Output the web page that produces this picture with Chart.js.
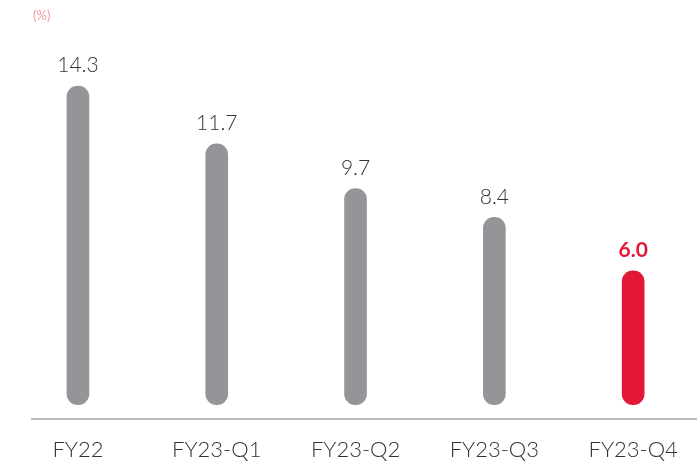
<!DOCTYPE html>
<html>
<head>
<meta charset="utf-8">
<script src="https://cdn.jsdelivr.net/npm/chart.js@4/dist/chart.umd.min.js"></script>
<style>
    html, body { margin: 0; padding: 0; background: #fff; overflow: hidden; }
    #wrap { position: relative; width: 697px; height: 463px; }
    #unit { position: absolute; left: 33px; top: 7px; font: 13px Lato, sans-serif; color: #f29a9a; }
</style>
</head>
<body>
<div id="wrap">
    <div id="unit">(%)</div>
    <canvas id="chart"></canvas>
</div>
<script>
const categories = ['FY22', 'FY23-Q1', 'FY23-Q2', 'FY23-Q3', 'FY23-Q4'];
const values = [14.3, 11.7, 9.7, 8.4, 6.0];
const valueLabels = ['14.3', '11.7', '9.7', '8.4', '6.0'];

const GREY = '#939598';
const RED = '#e31837';

// labels above each pill, last one bold red
const valueLabelPlugin = {
    id: 'valueLabels',
    afterDatasetsDraw(chart) {
        const ctx = chart.ctx;
        const meta = chart.getDatasetMeta(0);
        ctx.save();
        ctx.textAlign = 'center';
        ctx.textBaseline = 'bottom';
        meta.data.forEach((bar, i) => {
            const last = i === values.length - 1;
            ctx.fillStyle = last ? RED : '#333';
            ctx.font = (last ? 'bold ' : '300 ') + '21px Lato, sans-serif';
            ctx.fillText(valueLabels[i], bar.x, bar.y - 10);
        });
        ctx.restore();
    }
};

new Chart(document.getElementById('chart'), {
    type: 'bar',
    data: {
        datasets: [{
            data: values.map((v, i) => ({ x: i, y: v })),
            backgroundColor: values.map((v, i) => i === values.length - 1 ? RED : GREY),
            barThickness: 22,
            borderRadius: 11,
            borderSkipped: false
        }]
    },
    options: {
        responsive: true,
        maintainAspectRatio: false,
        animation: false,
        layout: { padding: { left: 32, right: 0, top: 0, bottom: -18 } },
        plugins: {
            legend: { display: false },
            tooltip: { enabled: false }
        },
        scales: {
            x: {
                type: 'linear',
                offset: false,
                min: -0.331,
                max: 4.46,
                grid: { display: false, drawTicks: false, offset: false },
                border: { display: true, color: '#bdbdbd', width: 2 },
                ticks: {
                    stepSize: 1,
                    includeBounds: false,
                    autoSkip: false,
                    maxRotation: 0,
                    padding: 18,
                    color: '#333',
                    font: { family: 'Lato, sans-serif', size: 22, weight: '300' },
                    callback: (v) => Number.isInteger(v) && categories[v] ? categories[v] : ''
                }
            },
            y: {
                display: false,
                min: -0.628,
                max: 18.16
            }
        }
    },
    plugins: [valueLabelPlugin]
});
</script>
</body>
</html>
